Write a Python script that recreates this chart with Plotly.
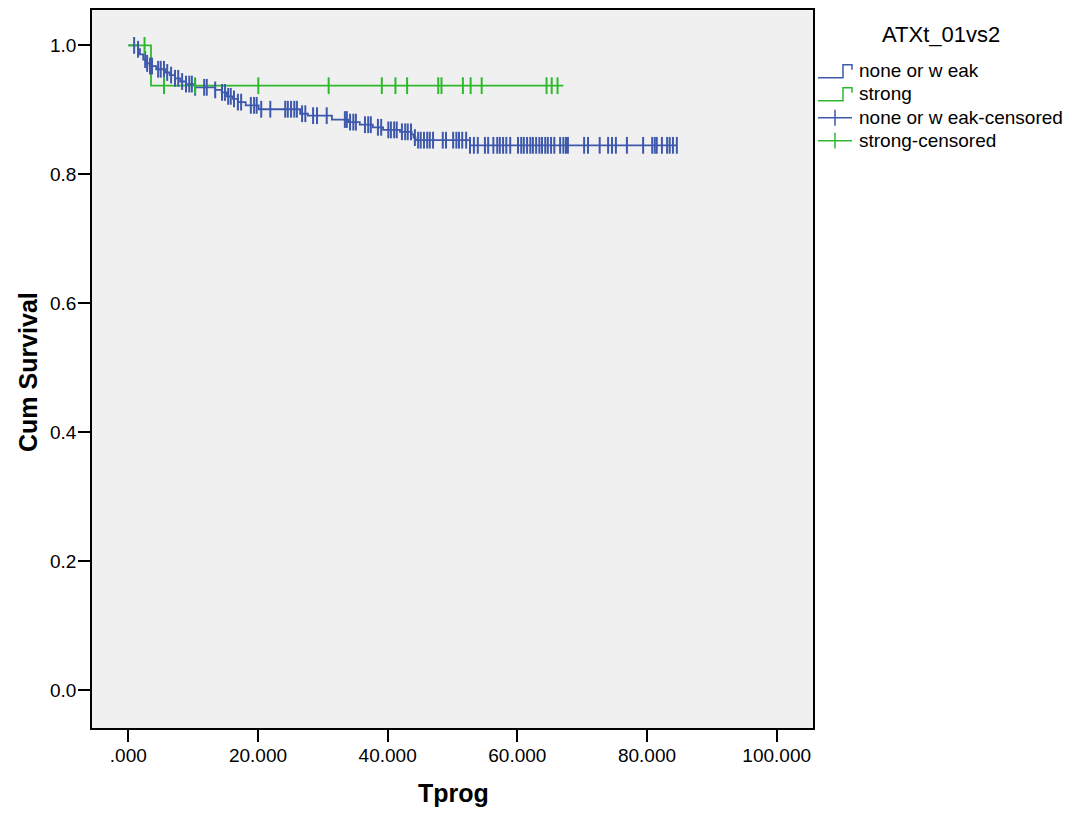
import plotly.graph_objects as go
import bisect

# ---------------- data ----------------
# group "none or weak": event times and survival after each event
blue_event_t = [1.5, 1.8, 2.3, 2.7, 3.3, 4.3, 5.7, 6.4, 7.2, 8.0, 8.9, 10.3, 13.4, 14.4, 15.2,
                16.1, 16.9, 18.1, 20.1, 26.5, 27.7, 31.4, 33.9, 35.7, 37.7, 39.3, 41.9, 43.7,
                44.0, 44.3, 52.7]
blue_event_s = [0.994, 0.986, 0.978, 0.972, 0.968, 0.963, 0.958, 0.954, 0.949, 0.944, 0.940,
                0.935, 0.931, 0.927, 0.921, 0.917, 0.912, 0.907, 0.901, 0.894, 0.891, 0.885,
                0.881, 0.877, 0.873, 0.869, 0.866, 0.862, 0.857, 0.853, 0.845]
blue_censor_t = [0.9, 1.5, 2.6, 2.9, 3.35, 3.65, 4.6, 5.0, 5.5, 6.0, 6.6, 7.2, 7.7, 8.3, 8.9,
                 9.4, 9.8, 10.3, 11.7, 12.1, 13.4, 14.45, 14.9, 15.4, 15.8, 16.3, 16.9, 17.4,
                 18.9, 19.4, 19.8, 20.5, 21.9, 24.2, 24.6, 25.1, 25.6, 26.0, 26.8, 27.3, 28.5,
                 29.1, 30.6, 33.4, 33.7, 34.2, 34.7, 35.1, 36.5, 37.0, 37.4, 38.5, 39.0, 40.1,
                 40.5, 41.0, 41.4, 42.2, 42.7, 43.1, 43.6, 44.2, 44.7, 45.1, 45.6, 46.1, 46.5,
                 47.0, 48.5, 49.0, 50.1, 50.6, 51.0, 51.5, 52.1, 52.7, 53.3, 53.9, 55.0, 55.5,
                 56.3, 56.9, 57.3, 57.8, 58.3, 58.9, 60.1, 60.6, 61.0, 61.5, 62.0, 62.4, 62.9,
                 63.4, 63.8, 64.3, 64.7, 65.2, 65.7, 66.6, 67.1, 67.5, 67.8, 70.3, 70.9, 72.7,
                 74.0, 74.6, 75.2, 76.9, 79.4, 80.8, 81.2, 81.5, 82.3, 83.1, 83.5, 84.0, 84.6]
blue_end_t = 84.6

# group "strong"
green_event_t = [3.5]
green_event_s = [0.9375]
green_censor_t = [2.5, 5.5, 10.3, 20.05, 30.9, 39.1, 41.2, 43.0, 47.8, 48.3, 51.6, 52.8,
                  54.5, 64.5, 65.3, 66.2]
green_end_t = 67.1

x_tick_vals = [0, 20, 40, 60, 80, 100]
x_tick_text = [".000", "20.000", "40.000", "60.000", "80.000", "100.000"]
y_tick_vals = [0.0, 0.2, 0.4, 0.6, 0.8, 1.0]

legend_title = "ATXt_01vs2"
legend_labels = ["none or w eak", "strong", "none or w eak-censored", "strong-censored"]

BLUE = "#3E58AC"
GREEN = "#2EB82E"
FONT = "Liberation Sans, Arial, sans-serif"


def step_curve(ev_t, ev_s, end_t):
    xs = [0.0] + list(ev_t) + [end_t]
    ys = [1.0] + list(ev_s) + [ev_s[-1]]
    return xs, ys


def surv_at(t, ev_t, ev_s):
    i = bisect.bisect_right(ev_t, t)
    return 1.0 if i == 0 else ev_s[i - 1]


fig = go.Figure()

bx, by = step_curve(blue_event_t, blue_event_s, blue_end_t)
gx, gy = step_curve(green_event_t, green_event_s, green_end_t)

fig.add_trace(go.Scatter(x=bx, y=by, mode="lines", line=dict(color=BLUE, width=1.8, shape="hv"),
                         name=legend_labels[0], showlegend=False, hoverinfo="skip"))
fig.add_trace(go.Scatter(x=gx, y=gy, mode="lines", line=dict(color=GREEN, width=1.8, shape="hv"),
                         name=legend_labels[1], showlegend=False, hoverinfo="skip"))
fig.add_trace(go.Scatter(x=blue_censor_t,
                         y=[surv_at(t, blue_event_t, blue_event_s) for t in blue_censor_t],
                         mode="markers",
                         marker=dict(symbol="line-ns-open", size=12, color=BLUE,
                                     line=dict(color=BLUE, width=2)),
                         name=legend_labels[2], showlegend=False))
fig.add_trace(go.Scatter(x=green_censor_t,
                         y=[surv_at(t, green_event_t, green_event_s) for t in green_censor_t],
                         mode="markers",
                         marker=dict(symbol="line-ns-open", size=12, color=GREEN,
                                     line=dict(color=GREEN, width=2)),
                         name=legend_labels[3], showlegend=False))

# ---------------- layout ----------------
# page body has an 8px margin; figure sized so the plot lands where the reference has it
OFF = 8
W, H = 1056, 800
ML, MT = 84, 0
PW, PH = 721, 720
MR = W - ML - PW
MB = H - MT - PH


def px(xs):
    """screen x pixel -> paper coordinate"""
    return (xs - OFF - ML) / PW


def py(ys):
    """screen y pixel -> paper coordinate"""
    return (MT + PH - (ys - OFF)) / PH


shapes = []
annotations = []

# legend title
annotations.append(dict(x=px(941), y=py(33), xref="paper", yref="paper", text=legend_title,
                        showarrow=False, xanchor="center", yanchor="middle",
                        font=dict(family=FONT, size=22, color="black")))
legend_y = [69, 92, 116, 139]
legend_col = [BLUE, GREEN, BLUE, GREEN]
for i, (lab, yc, col) in enumerate(zip(legend_labels, legend_y, legend_col)):
    if i < 2:
        path = "M {:.5f},{:.5f} L {:.5f},{:.5f} L {:.5f},{:.5f} L {:.5f},{:.5f} L {:.5f},{:.5f}".format(
            px(818), py(yc + 7), px(843), py(yc + 7), px(843), py(yc - 6),
            px(852), py(yc - 6), px(852), py(yc - 1))
        shapes.append(dict(type="path", xref="paper", yref="paper", path=path,
                           line=dict(color=col, width=1.5)))
    else:
        shapes.append(dict(type="line", xref="paper", yref="paper", x0=px(818), x1=px(852),
                           y0=py(yc), y1=py(yc), line=dict(color=col, width=1.5)))
        shapes.append(dict(type="line", xref="paper", yref="paper", x0=px(835), x1=px(835),
                           y0=py(yc - 8), y1=py(yc + 8), line=dict(color=col, width=1.5)))
    annotations.append(dict(x=px(857), y=py(yc), xref="paper", yref="paper", text=lab,
                            showarrow=False, xanchor="left", yanchor="middle",
                            font=dict(family=FONT, size=19, color="black")))

# axis titles
annotations.append(dict(x=px(453), y=py(808), xref="paper", yref="paper", text="<b>Tprog</b>",
                        showarrow=False, xanchor="center", yanchor="bottom", borderpad=0,
                        font=dict(family=FONT, size=25, color="black")))
annotations.append(dict(x=px(28), y=py(371), xref="paper", yref="paper",
                        text="<b>Cum Survival</b>", textangle=-90,
                        showarrow=False, xanchor="center", yanchor="middle",
                        font=dict(family=FONT, size=25, color="black")))

fig.update_layout(
    width=W, height=H,
    margin=dict(l=ML, r=MR, t=MT, b=MB, pad=0),
    paper_bgcolor="white",
    plot_bgcolor="#F0F0F0",
    showlegend=False,
    font=dict(family=FONT, size=19, color="black"),
    shapes=shapes,
    annotations=annotations,
)
fig.update_xaxes(range=[-5.6, 105.6], tickvals=x_tick_vals, ticktext=x_tick_text,
                 ticks="outside", ticklen=12, tickwidth=2, tickcolor="black",
                 ticklabelstandoff=-3,
                 showline=True, linecolor="black", linewidth=1.5, mirror=True,
                 showgrid=False, zeroline=False, tickfont=dict(size=19))
fig.update_yaxes(range=[-0.0587, 1.0549], tickvals=y_tick_vals, tickformat=".1f",
                 ticks="outside", ticklen=12, tickwidth=2, tickcolor="black",
                 ticklabelstandoff=-2,
                 showline=True, linecolor="black", linewidth=1.5, mirror=True,
                 showgrid=False, zeroline=False, tickfont=dict(size=19))

fig.write_html("out.html")
